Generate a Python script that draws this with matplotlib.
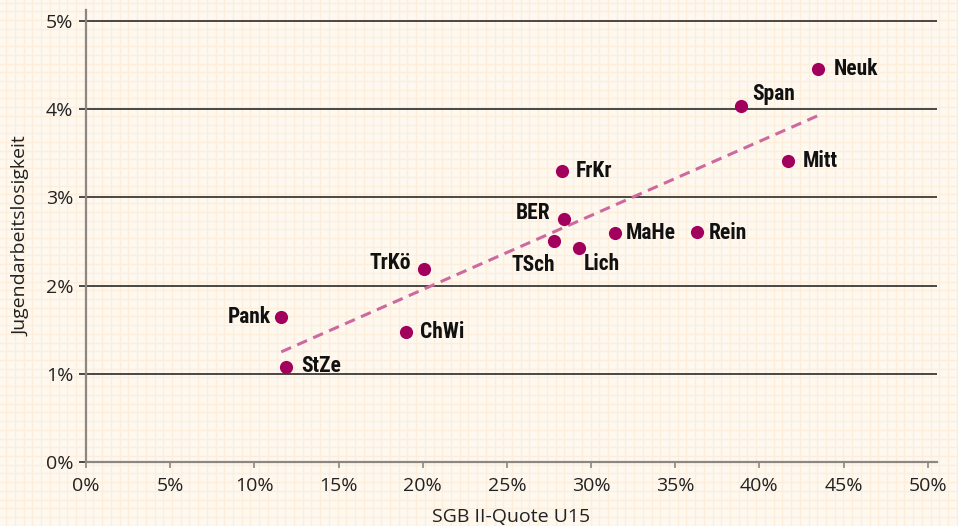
import matplotlib
matplotlib.use("Agg")
import matplotlib.pyplot as plt
import numpy as np
from matplotlib.ticker import FuncFormatter

# ---- data ----
districts = ["Neuk", "Span", "Mitt", "FrKr", "BER", "MaHe", "Rein",
             "TSch", "Lich", "TrKö", "Pank", "ChWi", "StZe"]
sgb_quote = [43.5, 38.9, 41.7, 28.3, 28.4, 31.4, 36.3,
             27.8, 29.3, 20.1, 11.6, 19.0, 11.9]
youth_unemp = [4.46, 4.04, 3.41, 3.30, 2.76, 2.60, 2.61,
               2.51, 2.43, 2.19, 1.64, 1.47, 1.08]
x_ticks = [0, 5, 10, 15, 20, 25, 30, 35, 40, 45, 50]
y_ticks = [0, 1, 2, 3, 4, 5]
x_label = "SGB II-Quote U15"
y_label = "Jugendarbeitslosigkeit"

# label placement (ha, dx px, dy px)
label_pos = {
    "Neuk": ("left", 15, 0), "Span": ("left", 11, 12), "Mitt": ("left", 15, 0),
    "FrKr": ("left", 13, 0), "BER": ("right", -14, 6), "MaHe": ("left", 11, 0),
    "Rein": ("left", 12, -1), "TSch": ("right", 1, -24), "Lich": ("left", 4, -16),
    "TrKö": ("right", -13, 6), "Pank": ("right", -10, 0), "ChWi": ("left", 14, 0),
    "StZe": ("left", 15, 1),
}

W, H = 958, 526
fig = plt.figure(figsize=(W / 100, H / 100), dpi=100)
bg_col = "#fef8ef"
paper_col = "#fdeedc"
fig.patch.set_facecolor(bg_col)

# graph paper background
bg = fig.add_axes([0, 0, 1, 1], zorder=0)
bg.set_xlim(0, W)
bg.set_ylim(H, 0)
bg.axis("off")
step = 8.72
for xv in np.arange(6.3, W, step):
    bg.axvline(xv, color=paper_col, lw=0.9, zorder=0)
for yv in np.arange(2.5, H, step):
    bg.axhline(yv, color=paper_col, lw=0.9, zorder=0)

ax = fig.add_axes([86 / W, 1 - 462 / H, (937 - 86) / W, (462 - 10) / H], zorder=1)
ax.patch.set_alpha(0)
ax.set_xlim(0, 50.55)
ax.set_ylim(0, 5.125)

tick_font = "Open Sans"
lab_font = ["Roboto Condensed", "Roboto", "DejaVu Sans"]

grid_col = "#3c3a38"
spine_col = "#8d8782"
for y in y_ticks[1:]:
    ax.axhline(y, color=grid_col, lw=1.3, zorder=1)

for s in ["top", "right"]:
    ax.spines[s].set_visible(False)
for s in ["left", "bottom"]:
    ax.spines[s].set_color(spine_col)
    ax.spines[s].set_linewidth(1.6)

ax.set_xticks(x_ticks)
ax.set_yticks(y_ticks)
pct = FuncFormatter(lambda v, p: f"{v:.0f}%")
ax.xaxis.set_major_formatter(pct)
ax.yaxis.set_major_formatter(pct)
ax.tick_params(axis="x", direction="out", length=4, width=1.2, color=spine_col,
               pad=7, labelsize=14, labelcolor="#222222")
ax.tick_params(axis="y", direction="out", length=5, width=1.3, color=grid_col,
               pad=4, labelsize=14, labelcolor="#222222")
for t in ax.get_xticklabels() + ax.get_yticklabels():
    t.set_fontfamily(tick_font)

ax.set_xlabel(x_label, fontsize=14, family=tick_font, color="#222222", labelpad=9)
ax.set_ylabel(y_label, fontsize=14, family=tick_font, color="#222222", labelpad=11)

# trend line
xs = np.array(sgb_quote)
ys = np.array(youth_unemp)
m, b = np.polyfit(xs, ys, 1)
xl = np.array([xs.min(), xs.max()])
ax.plot(xl, m * xl + b, color="#cc6aa0", lw=2.2, ls=(0, (3.5, 2.2)), zorder=2)

point_col = "#a1005c"
ax.scatter(xs, ys, s=90, color=point_col, zorder=3, linewidths=0)

for name, xv, yv in zip(districts, sgb_quote, youth_unemp):
    ha, dx, dy = label_pos[name]
    ax.annotate(name, (xv, yv), xytext=(dx, dy), textcoords="offset pixels",
                ha=ha, va="center", fontsize=15.5, fontweight="bold",
                family=lab_font, color="#111111", zorder=4)

fig.savefig("out.png", dpi=100, facecolor=fig.get_facecolor())
